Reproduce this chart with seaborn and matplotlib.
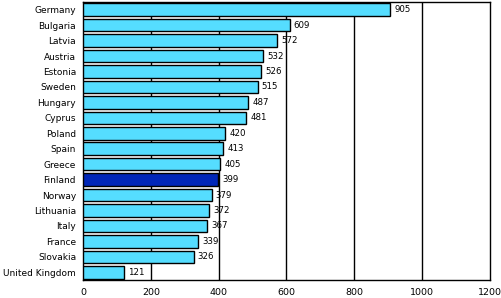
import matplotlib
matplotlib.use("Agg")
import matplotlib.pyplot as plt
import seaborn as sns
import pandas as pd

countries = ["Germany", "Bulgaria", "Latvia", "Austria", "Estonia", "Sweden", "Hungary",
             "Cyprus", "Poland", "Spain", "Greece", "Finland", "Norway", "Lithuania",
             "Italy", "France", "Slovakia", "United Kingdom"]
values = [905, 609, 572, 532, 526, 515, 487, 481, 420, 413, 405, 399, 379, 372, 367, 339, 326, 121]
highlight = "Finland"
xticks = [0, 200, 400, 600, 800, 1000, 1200]

df = pd.DataFrame({"country": countries, "value": values})
palette = {c: ("#0026B8" if c == highlight else "#55DDFF") for c in countries}

sns.set_style("white")
plt.rcParams["font.family"] = ["DejaVu Sans"]

fig = plt.figure(figsize=(5.02, 2.98), dpi=100)
ax = fig.add_axes([83/502, 18/298, (490-83)/502, (280-2)/298])

sns.barplot(data=df, x="value", y="country", hue="country", palette=palette,
            legend=False, orient="h", width=0.82, edgecolor="black", linewidth=1.0,
            saturation=1, ax=ax, zorder=3)

ax.set_xlim(0, 1200)
ax.set_xticks(xticks)
ax.set_xticklabels([str(t) for t in xticks], fontsize=6.8)
for t in xticks[1:-1]:
    ax.axvline(t, color="black", linewidth=1.0, zorder=1)
ax.set_xlabel("")
ax.set_ylabel("")
ax.tick_params(axis="y", labelsize=6.5, length=0, pad=5, labelcolor="black")
ax.tick_params(axis="x", length=0, pad=6, labelcolor="black")
for s in ax.spines.values():
    s.set_color("black")
    s.set_linewidth(1.0)

for i, v in enumerate(values):
    ax.text(v + 12, i, str(v), va="center", ha="left", fontsize=6.2, color="black", zorder=4)

fig.savefig("out.png", dpi=100)
